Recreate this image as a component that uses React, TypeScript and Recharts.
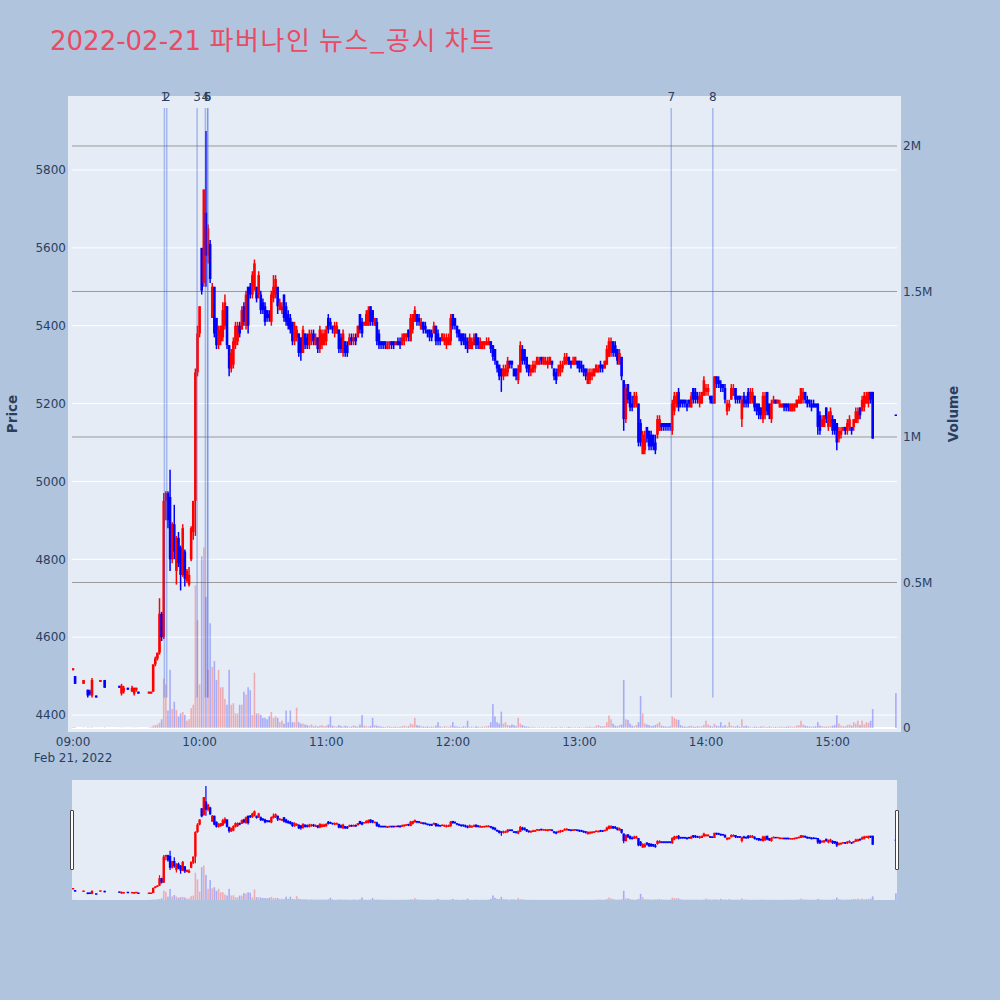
import React from "react";
import {
  ComposedChart,
  Bar,
  XAxis,
  YAxis,
  ReferenceLine,
} from "recharts";

// minutes after 09:00 (one candle per traded minute, 390 = closing auction)
const minutes = [
  0, 1, 5, 7, 8, 9, 11, 13, 15, 22, 23, 24, 26, 28, 29, 30, 31, 36, 37,
  38, 39, 40, 41, 42, 43, 44, 45, 46, 47,
  48, 49, 50, 51, 52, 53, 54, 55, 56, 57,
  58, 59, 60, 61, 62, 63, 64, 65, 66, 67,
  68, 69, 70, 71, 72, 73, 74, 75, 76, 77,
  78, 79, 80, 81, 82, 83, 84, 85, 86, 87,
  88, 89, 90, 91, 92, 93, 94, 95, 96, 97,
  98, 99, 100, 101, 102, 103, 104, 105, 106, 107,
  108, 109, 110, 111, 112, 113, 114, 115, 116, 117,
  118, 119, 120, 121, 122, 123, 124, 125, 126, 127,
  128, 129, 130, 131, 132, 133, 134, 135, 136, 137,
  138, 139, 140, 141, 142, 143, 144, 145, 146, 147,
  148, 149, 150, 151, 152, 153, 154, 155, 156,
  157, 158, 159, 160, 161, 162, 163, 164, 165, 166,
  167, 168, 169, 170, 171, 172, 173, 174, 175, 176,
  177, 178, 179, 180, 181, 182, 183, 184, 185, 186,
  187, 188, 189, 190, 191, 192, 193, 194, 195, 196,
  197, 198, 199, 200, 201, 202, 203, 204, 205, 206,
  207, 208, 209, 210, 211, 212, 213, 214, 215, 216,
  217, 218, 219, 220, 221, 222, 223, 224, 225, 226,
  227, 228, 229, 230, 231, 232, 233, 234, 235, 236,
  237, 238, 239, 240, 241, 242, 243, 244, 245, 246,
  247, 248, 249, 250, 251, 252, 253, 254, 255, 256,
  257, 258, 259, 260, 261, 262, 263, 264, 265, 266,
  267, 268, 269, 270, 271, 272, 273, 274, 275, 276,
  277, 278, 279, 280, 281, 282, 283, 284, 285, 286,
  287, 288, 289, 290, 291, 292, 293, 294, 295, 296,
  297, 298, 299, 300, 301, 302, 303, 304, 305, 306,
  307, 308, 309, 310, 311, 312, 313, 314, 315, 316,
  317, 318, 319, 320, 321, 322, 323, 324, 325, 326,
  327, 328, 329, 330, 331, 332, 333, 334, 335, 336,
  337, 338, 339, 340, 341, 342, 343, 344, 345, 346,
  347, 348, 349, 350, 351, 352, 353, 354, 355, 356,
  357, 358, 359, 360, 361, 362, 363, 364, 365, 366,
  367, 368, 369, 370, 371, 372, 373, 374, 375, 376,
  377, 378, 379,
  390,
];

const opens = [
  4515, 4500, 4480, 4465, 4460, 4450, 4450, 4485, 4490, 4475, 4455, 4460, 4470, 4460, 4455, 4465, 4460, 4455, 4455,
  4460, 4530, 4545, 4560, 4660, 4600, 4950, 4970, 4960, 4800,
  4890, 4770, 4855, 4830, 4760, 4820, 4745, 4735, 4800, 4870,
  4950, 5280, 5380, 5600, 5510, 5690, 5580, 5610, 5420, 5500,
  5420, 5350, 5360, 5370, 5400, 5450, 5350, 5290, 5300, 5350,
  5360, 5400, 5390, 5450, 5400, 5500, 5500, 5480, 5500, 5500,
  5480, 5480, 5460, 5450, 5440, 5430, 5410, 5470, 5480, 5500,
  5440, 5440, 5480, 5450, 5430, 5420, 5410, 5360, 5370, 5380,
  5370, 5330, 5380, 5370, 5350, 5360, 5380, 5350, 5370, 5340,
  5350, 5350, 5360, 5420, 5410, 5400, 5380, 5380, 5390, 5370,
  5330, 5360, 5350, 5350, 5370, 5360, 5370, 5370, 5430, 5410,
  5400, 5400, 5400, 5450, 5440, 5400, 5410, 5380, 5360, 5360,
  5360, 5340, 5350, 5360, 5360, 5350, 5360, 5360, 5350,
  5360, 5370, 5390, 5360, 5390, 5410, 5430, 5420, 5390, 5410,
  5400, 5390, 5390, 5380, 5380, 5400, 5380, 5370, 5360, 5360,
  5350, 5350, 5360, 5430, 5420, 5400, 5390, 5380, 5380, 5370,
  5360, 5340, 5340, 5350, 5380, 5370, 5340, 5340, 5350, 5350,
  5350, 5360, 5350, 5340, 5310, 5300, 5290, 5270, 5270, 5280,
  5310, 5310, 5290, 5290, 5260, 5280, 5340, 5340, 5320, 5300,
  5280, 5280, 5290, 5300, 5300, 5320, 5300, 5300, 5300, 5300,
  5310, 5290, 5280, 5270, 5280, 5290, 5300, 5310, 5320, 5310,
  5300, 5300, 5310, 5310, 5300, 5290, 5290, 5250, 5260, 5270,
  5270, 5280, 5280, 5300, 5300, 5290, 5300, 5320, 5330, 5360,
  5350, 5340, 5300, 5320, 5260, 5160, 5250, 5230, 5200, 5190,
  5200, 5200, 5150, 5070, 5080, 5140, 5130, 5120, 5120, 5100,
  5120, 5130, 5150, 5150, 5150, 5150, 5150, 5130, 5180, 5200,
  5230, 5210, 5210, 5210, 5200, 5210, 5190, 5240, 5230, 5220,
  5200, 5200, 5220, 5230, 5230, 5220, 5220, 5200, 5270, 5260,
  5250, 5250, 5240, 5180, 5190, 5210, 5220, 5240, 5220, 5220,
  5160, 5220, 5210, 5230, 5200, 5210, 5220, 5200, 5200, 5190,
  5160, 5170, 5230, 5200, 5160, 5200, 5210, 5200, 5190, 5190,
  5200, 5200, 5200, 5180, 5180, 5190, 5190, 5200, 5200, 5210,
  5230, 5210, 5210, 5200, 5200, 5200, 5200, 5170, 5140, 5140,
  5190, 5140, 5150, 5160, 5160, 5150, 5110, 5120, 5130, 5140,
  5130, 5140, 5140, 5140, 5150, 5160, 5190, 5180, 5190, 5200,
  5200, 5230, 5230,
  5170,
];

const highs = [
  4520, 4500, 4490, 4465, 4465, 4495, 4450, 4490, 4490, 4475, 4480, 4475, 4470, 4475, 4470, 4470, 4460, 4460, 4460,
  4530, 4550, 4560, 4700, 4665, 4970, 4975, 4975, 5030, 4895,
  4940, 4860, 4870, 4835, 4890, 4825, 4775, 4780, 4885, 4950,
  5290, 5400, 5450, 5600, 5750, 5900, 5660, 5620, 5510, 5500,
  5420, 5400, 5400, 5460, 5480, 5450, 5350, 5340, 5370, 5410,
  5410, 5410, 5450, 5460, 5490, 5500, 5510, 5540, 5570, 5500,
  5540, 5490, 5470, 5460, 5440, 5440, 5490, 5530, 5530, 5500,
  5470, 5460, 5480, 5460, 5440, 5430, 5410, 5410, 5400, 5380,
  5370, 5400, 5380, 5380, 5390, 5390, 5390, 5380, 5370, 5400,
  5390, 5390, 5400, 5430, 5420, 5400, 5410, 5410, 5390, 5380,
  5390, 5360, 5360, 5380, 5380, 5380, 5380, 5400, 5430, 5420,
  5410, 5440, 5450, 5450, 5440, 5420, 5420, 5390, 5360, 5360,
  5360, 5360, 5360, 5360, 5360, 5360, 5370, 5370, 5380,
  5380, 5380, 5390, 5430, 5430, 5450, 5430, 5430, 5420, 5410,
  5410, 5390, 5390, 5390, 5410, 5400, 5390, 5370, 5380, 5380,
  5380, 5380, 5430, 5430, 5420, 5400, 5390, 5380, 5380, 5380,
  5370, 5380, 5370, 5380, 5380, 5370, 5370, 5360, 5360, 5370,
  5370, 5360, 5350, 5340, 5310, 5300, 5290, 5300, 5300, 5320,
  5310, 5310, 5290, 5290, 5300, 5360, 5350, 5340, 5320, 5300,
  5300, 5310, 5310, 5320, 5320, 5320, 5320, 5320, 5320, 5320,
  5310, 5290, 5290, 5300, 5310, 5310, 5330, 5330, 5320, 5310,
  5320, 5320, 5310, 5310, 5310, 5300, 5290, 5290, 5290, 5290,
  5290, 5300, 5300, 5310, 5300, 5310, 5350, 5370, 5370, 5360,
  5360, 5340, 5340, 5320, 5260, 5250, 5250, 5230, 5220, 5230,
  5230, 5200, 5160, 5130, 5130, 5140, 5130, 5130, 5120, 5120,
  5170, 5170, 5150, 5150, 5150, 5150, 5150, 5210, 5230, 5230,
  5240, 5210, 5210, 5210, 5210, 5210, 5230, 5240, 5240, 5230,
  5230, 5230, 5270, 5250, 5250, 5220, 5220, 5270, 5270, 5270,
  5260, 5250, 5250, 5210, 5210, 5250, 5250, 5240, 5220, 5220,
  5220, 5230, 5220, 5240, 5240, 5240, 5220, 5200, 5200, 5190,
  5230, 5230, 5230, 5200, 5210, 5220, 5210, 5210, 5210, 5200,
  5200, 5200, 5200, 5200, 5200, 5200, 5210, 5220, 5240, 5240,
  5230, 5220, 5210, 5210, 5210, 5200, 5200, 5180, 5170, 5170,
  5190, 5180, 5190, 5170, 5160, 5150, 5140, 5140, 5140, 5140,
  5160, 5170, 5140, 5160, 5190, 5190, 5190, 5220, 5230, 5230,
  5230, 5230, 5230,
  5170,
];

const lows = [
  4515, 4480, 4480, 4445, 4450, 4445, 4445, 4485, 4470, 4470, 4450, 4455, 4465, 4460, 4450, 4460, 4455, 4455, 4455,
  4460, 4525, 4540, 4555, 4590, 4595, 4900, 4880, 4770, 4790,
  4800, 4735, 4780, 4720, 4755, 4730, 4740, 4730, 4795, 4850,
  4860, 5270, 5370, 5480, 5500, 5500, 5560, 5510, 5420, 5370,
  5340, 5340, 5350, 5360, 5390, 5340, 5270, 5280, 5290, 5340,
  5350, 5370, 5390, 5400, 5390, 5380, 5470, 5470, 5490, 5460,
  5470, 5430, 5430, 5400, 5410, 5410, 5400, 5460, 5470, 5430,
  5440, 5430, 5410, 5400, 5390, 5380, 5350, 5350, 5360, 5320,
  5310, 5330, 5340, 5340, 5340, 5350, 5350, 5350, 5330, 5330,
  5340, 5350, 5350, 5380, 5390, 5380, 5370, 5380, 5330, 5330,
  5320, 5320, 5320, 5350, 5350, 5350, 5350, 5370, 5380, 5370,
  5400, 5400, 5400, 5400, 5400, 5400, 5350, 5340, 5340, 5340,
  5340, 5340, 5340, 5340, 5340, 5350, 5350, 5340, 5350,
  5350, 5360, 5360, 5360, 5380, 5410, 5400, 5400, 5390, 5380,
  5380, 5370, 5360, 5360, 5380, 5350, 5350, 5350, 5360, 5350,
  5340, 5350, 5350, 5390, 5390, 5370, 5360, 5350, 5350, 5340,
  5330, 5340, 5340, 5350, 5340, 5340, 5340, 5340, 5340, 5350,
  5350, 5330, 5310, 5300, 5280, 5260, 5230, 5260, 5270, 5270,
  5290, 5290, 5270, 5260, 5250, 5280, 5300, 5300, 5280, 5270,
  5270, 5280, 5280, 5300, 5300, 5300, 5300, 5300, 5290, 5300,
  5290, 5260, 5250, 5270, 5270, 5280, 5300, 5300, 5300, 5290,
  5300, 5300, 5290, 5280, 5280, 5270, 5260, 5250, 5250, 5260,
  5270, 5280, 5280, 5280, 5280, 5290, 5300, 5320, 5320, 5320,
  5320, 5300, 5300, 5260, 5130, 5150, 5200, 5180, 5180, 5190,
  5190, 5090, 5090, 5070, 5070, 5100, 5080, 5080, 5080, 5070,
  5110, 5130, 5130, 5130, 5130, 5130, 5130, 5120, 5170, 5190,
  5180, 5190, 5190, 5190, 5180, 5190, 5190, 5200, 5200, 5200,
  5190, 5200, 5220, 5220, 5220, 5200, 5200, 5200, 5240, 5240,
  5230, 5230, 5200, 5170, 5180, 5210, 5220, 5200, 5200, 5200,
  5140, 5190, 5190, 5190, 5200, 5200, 5180, 5170, 5160, 5160,
  5150, 5160, 5170, 5160, 5150, 5200, 5200, 5200, 5190, 5190,
  5180, 5180, 5180, 5180, 5180, 5180, 5190, 5200, 5200, 5200,
  5200, 5190, 5190, 5180, 5190, 5190, 5120, 5120, 5140, 5140,
  5150, 5130, 5140, 5120, 5120, 5080, 5100, 5110, 5130, 5120,
  5120, 5130, 5120, 5130, 5150, 5150, 5160, 5180, 5180, 5200,
  5190, 5200, 5110,
  5170,
];

const closes = [
  4520, 4480, 4490, 4450, 4455, 4490, 4445, 4490, 4470, 4470, 4475, 4470, 4465, 4470, 4470, 4470, 4455, 4460, 4460,
  4530, 4545, 4560, 4660, 4600, 4950, 4970, 4900, 4800, 4890,
  4820, 4855, 4790, 4760, 4880, 4750, 4770, 4760, 4880, 4950,
  5280, 5380, 5450, 5490, 5750, 5580, 5650, 5520, 5500, 5380,
  5350, 5390, 5400, 5440, 5460, 5350, 5290, 5330, 5360, 5400,
  5400, 5380, 5440, 5410, 5480, 5400, 5480, 5530, 5560, 5470,
  5530, 5440, 5440, 5410, 5420, 5420, 5480, 5500, 5520, 5450,
  5460, 5450, 5420, 5410, 5400, 5390, 5360, 5400, 5390, 5330,
  5330, 5390, 5350, 5350, 5380, 5380, 5360, 5370, 5340, 5390,
  5380, 5380, 5390, 5390, 5400, 5390, 5400, 5400, 5340, 5340,
  5380, 5330, 5330, 5370, 5360, 5370, 5360, 5400, 5390, 5380,
  5410, 5430, 5440, 5410, 5410, 5420, 5360, 5350, 5350, 5350,
  5350, 5350, 5360, 5350, 5350, 5360, 5350, 5350, 5370,
  5380, 5380, 5370, 5420, 5430, 5440, 5410, 5410, 5410, 5390,
  5390, 5380, 5370, 5370, 5400, 5360, 5360, 5360, 5380, 5370,
  5370, 5370, 5420, 5400, 5400, 5380, 5370, 5360, 5360, 5350,
  5340, 5370, 5360, 5370, 5350, 5350, 5360, 5360, 5360, 5360,
  5360, 5340, 5320, 5310, 5290, 5270, 5270, 5290, 5290, 5310,
  5300, 5300, 5270, 5270, 5290, 5350, 5310, 5310, 5290, 5280,
  5290, 5300, 5300, 5320, 5310, 5310, 5320, 5310, 5310, 5320,
  5300, 5270, 5260, 5290, 5300, 5300, 5320, 5320, 5300, 5300,
  5310, 5320, 5300, 5290, 5290, 5280, 5270, 5280, 5280, 5280,
  5290, 5300, 5290, 5290, 5290, 5310, 5340, 5360, 5360, 5330,
  5330, 5310, 5330, 5270, 5160, 5240, 5210, 5190, 5190, 5220,
  5220, 5100, 5100, 5120, 5110, 5110, 5090, 5090, 5090, 5080,
  5160, 5160, 5140, 5140, 5140, 5140, 5140, 5200, 5220, 5220,
  5190, 5200, 5200, 5200, 5190, 5200, 5220, 5210, 5210, 5210,
  5220, 5230, 5260, 5240, 5240, 5210, 5200, 5270, 5250, 5250,
  5240, 5240, 5210, 5200, 5200, 5240, 5240, 5210, 5210, 5210,
  5210, 5200, 5200, 5200, 5230, 5230, 5190, 5180, 5170, 5170,
  5220, 5220, 5180, 5170, 5200, 5210, 5200, 5210, 5200, 5200,
  5190, 5190, 5190, 5200, 5200, 5200, 5210, 5210, 5240, 5230,
  5210, 5200, 5200, 5190, 5190, 5190, 5140, 5130, 5160, 5170,
  5160, 5170, 5180, 5130, 5130, 5100, 5130, 5130, 5140, 5130,
  5150, 5160, 5130, 5160, 5180, 5180, 5170, 5210, 5220, 5220,
  5230, 5210, 5110,
  5170,
];

const volumes = [
  3000, 2000, 1000, 1500, 1000, 2000, 800, 500, 1500, 500, 1200, 800, 400, 900, 1000, 600, 500, 1500, 2500,
  8000, 10000, 12000, 18000, 30000, 170000, 150000, 60000, 200000, 65000,
  90000, 62000, 40000, 50000, 55000, 45000, 25000, 30000, 68000, 80000,
  490000, 370000, 150000, 590000, 620000, 450000, 200000, 360000, 210000, 230000,
  165000, 200000, 140000, 140000, 100000, 80000, 200000, 80000, 85000, 50000,
  50000, 80000, 80000, 125000, 115000, 140000, 130000, 45000, 190000, 50000,
  50000, 45000, 35000, 35000, 30000, 40000, 55000, 35000, 40000, 35000,
  20000, 25000, 15000, 60000, 20000, 60000, 20000, 20000, 70000, 20000,
  15000, 15000, 12000, 10000, 8000, 12000, 6000, 9000, 5000, 8000,
  10000, 6000, 8000, 12000, 40000, 8000, 6000, 5000, 10000, 7000,
  5000, 8000, 6000, 4000, 5000, 9000, 6000, 5000, 12000, 45000,
  8000, 6000, 5000, 7000, 35000, 10000, 8000, 6000, 5000, 4000,
  3000, 5000, 6000, 3000, 4000, 5000, 3000, 4000, 6000,
  8000, 5000, 6000, 15000, 12000, 35000, 10000, 8000, 6000, 5000,
  4000, 6000, 3000, 5000, 4000, 8000, 20000, 5000, 4000, 6000,
  5000, 4000, 8000, 20000, 6000, 5000, 4000, 3000, 6000, 5000,
  25000, 4000, 5000, 3000, 6000, 4000, 3000, 5000, 4000, 6000,
  8000, 20000, 82000, 40000, 20000, 15000, 56000, 15000, 20000, 10000,
  8000, 12000, 10000, 6000, 35000, 15000, 10000, 6000, 5000, 4000,
  3000, 4000, 3000, 2000, 3000, 2000, 3000, 2000, 3000, 2000,
  3000, 2000, 3000, 2000, 4000, 3000, 2000, 3000, 4000, 3000,
  2000, 3000, 2000, 3000, 2000, 2000, 3000, 4000, 5000, 3000,
  4000, 8000, 10000, 6000, 5000, 7000, 20000, 43000, 30000, 15000,
  8000, 6000, 10000, 12000, 165000, 30000, 28000, 15000, 8000, 6000,
  10000, 20000, 110000, 50000, 15000, 12000, 10000, 6000, 8000, 10000,
  15000, 20000, 8000, 6000, 5000, 4000, 6000, 40000, 35000, 30000,
  28000, 10000, 6000, 5000, 4000, 6000, 8000, 5000, 4000, 6000,
  5000, 6000, 10000, 25000, 12000, 8000, 5000, 15000, 8000, 6000,
  20000, 6000, 10000, 5000, 20000, 8000, 6000, 5000, 8000, 4000,
  30000, 6000, 8000, 5000, 4000, 3000, 5000, 4000, 3000, 5000,
  6000, 4000, 3000, 5000, 4000, 3000, 4000, 3000, 5000, 4000,
  3000, 4000, 5000, 6000, 4000, 5000, 8000, 10000, 25000, 12000,
  8000, 6000, 5000, 4000, 5000, 6000, 20000, 8000, 6000, 5000,
  4000, 6000, 5000, 8000, 10000, 44000, 15000, 8000, 6000, 5000,
  10000, 12000, 8000, 20000, 15000, 25000, 10000, 25000, 12000, 20000,
  18000, 25000, 65000,
  120000,
];

// news / disclosure markers (minutes after 09:00)
const newsTimes = [43.3, 44.4, 58.8, 62.7, 63.8, 63.8, 283.5, 303.2];
const newsLabels = ["1", "2", "3", "4", "5", "6", "7", "8"];

const priceTicks = [4400, 4600, 4800, 5000, 5200, 5400, 5600, 5800];
const volumeTicks = [0, 500000, 1000000, 1500000, 2000000];
const timeTicks = [0, 60, 120, 180, 240, 300, 360];
const timeTickLabels = ["09:00", "10:00", "11:00", "12:00", "13:00", "14:00", "15:00"];
const dateLabel = "Feb 21, 2022";
const titleDate = "2022-02-21";
const titleText = "파버나인 뉴스_공시 차트";

const X_DOMAIN: [number, number] = [-0.5, 390.5];
const PRICE_DOMAIN: [number, number] = [4366.6, 5979.8];
const VOL_DOMAIN: [number, number] = [0, 2158000];

const RED = "#ff0000";
const BLUE = "#0000ff";
const VOL_RED = "rgba(255,0,0,0.27)";
const VOL_BLUE = "rgba(0,0,255,0.27)";
const AXIS = "#2a3f5f";
const FONT = '"DejaVu Sans", Verdana, sans-serif';

const n = Math.min(minutes.length, opens.length, highs.length, lows.length, closes.length, volumes.length);
const rows = minutes.slice(0, n).map((t, i) => ({
  t,
  o: opens[i],
  h: highs[i],
  l: lows[i],
  c: closes[i],
  v: volumes[i],
  range: [lows[i], highs[i]],
  up: closes[i] > opens[i],
}));

const newsLow = Math.min(...lows);
const newsHigh = Math.max(...highs) * 1.01;

const fmtVol = (v: number) => (v === 0 ? "0" : `${v / 1e6}M`);

function candleShape(bodyW: number, wickW: number) {
  return (props: any) => {
    const { x, y, width, height, payload } = props;
    if (payload == null || x == null || y == null) return <g />;
    const cx = x + (width || 0) / 2;
    const top = Math.min(y, y + (height || 0));
    const bot = Math.max(y, y + (height || 0));
    const span = payload.h - payload.l;
    const at = (v: number) => (span > 0 ? top + ((payload.h - v) / span) * (bot - top) : top);
    const color = payload.up ? RED : BLUE;
    const yo = at(payload.o);
    const yc = at(payload.c);
    let bTop = Math.min(yo, yc);
    let bH = Math.abs(yo - yc);
    if (bH < 1.5) {
      bTop = (yo + yc) / 2 - 0.75;
      bH = 1.5;
    }
    return (
      <g>
        <line x1={cx} x2={cx} y1={top} y2={bot} stroke={color} strokeWidth={wickW} />
        <rect x={cx - bodyW / 2} y={bTop} width={bodyW} height={bH} fill={color} />
      </g>
    );
  };
}

const volShape = (props: any) => {
  const { x, y, width, height, payload } = props;
  if (payload == null || x == null || y == null) return <g />;
  const cx = x + (width || 0) / 2;
  const top = Math.min(y, y + (height || 0));
  const h = Math.abs(height || 0);
  return <rect x={cx - 0.8} y={top} width={1.6} height={h} fill={payload.up ? VOL_RED : VOL_BLUE} />;
};

const TimeTick = (props: any) => {
  const { x, y, payload } = props;
  const idx = timeTicks.indexOf(payload.value);
  return (
    <g>
      <text x={x} y={y + 18} textAnchor="middle" fill={AXIS} fontSize={12} fontFamily={FONT}>
        {timeTickLabels[idx]}
      </text>
      {idx === 0 && (
        <text x={x} y={y + 34} textAnchor="middle" fill={AXIS} fontSize={12} fontFamily={FONT}>
          {dateLabel}
        </text>
      )}
    </g>
  );
};

const mainCandle = candleShape(2.6, 1.5);
const sliderCandle = candleShape(2.4, 1.2);

// shared hidden axes for the data layers
const hiddenAxes = [
  <XAxis key="hx" dataKey="t" type="number" domain={X_DOMAIN} allowDataOverflow hide />,
  <XAxis key="hxv" xAxisId="xv" dataKey="t" type="number" domain={X_DOMAIN} allowDataOverflow hide />,
  <YAxis key="hy" type="number" domain={PRICE_DOMAIN} allowDataOverflow hide />,
  <YAxis key="hyv" yAxisId="vol" type="number" domain={VOL_DOMAIN} allowDataOverflow hide />,
];

export default function App() {
  return (
    <div style={{ position: "absolute", left: 0, top: 0, width: 1000, height: 1000, background: "#b0c4de", overflow: "hidden" }}>
      {/* plot background */}
      <div style={{ position: "absolute", left: 68, top: 96, width: 833, height: 636, background: "#e5ecf6" }} />
      {/* range slider background */}
      <div style={{ position: "absolute", left: 72, top: 780, width: 825, height: 120, background: "#e5ecf6" }} />

      {/* axes and grid layer */}
      <div style={{ position: "absolute", left: 0, top: 0 }}>
        <ComposedChart width={1000} height={770} data={rows} margin={{ top: 100, right: 43, bottom: 12, left: 12 }}>
          <XAxis
            dataKey="t"
            type="number"
            domain={X_DOMAIN}
            ticks={timeTicks}
            interval={0}
            allowDataOverflow
            axisLine={false}
            tickLine={false}
            tickSize={0}
            tickMargin={0}
            height={30}
            tick={<TimeTick />}
          />
          <YAxis
            type="number"
            domain={PRICE_DOMAIN}
            ticks={priceTicks}
            interval={0}
            allowDataOverflow
            axisLine={false}
            tickLine={false}
            tickSize={0}
            tickMargin={6}
            width={60}
            tick={{ fill: AXIS, fontSize: 12, fontFamily: FONT }}
          />
          <YAxis
            yAxisId="vol"
            orientation="right"
            type="number"
            domain={VOL_DOMAIN}
            ticks={volumeTicks}
            interval={0}
            allowDataOverflow
            axisLine={false}
            tickLine={false}
            tickSize={0}
            tickMargin={6}
            width={60}
            tickFormatter={fmtVol}
            tick={{ fill: AXIS, fontSize: 12, fontFamily: FONT }}
          />
          {priceTicks.map((p) => (
            <ReferenceLine key={`pg-${p}`} y={p} stroke="#ffffff" strokeWidth={1} />
          ))}
          {volumeTicks.slice(1).map((v) => (
            <ReferenceLine key={`vg-${v}`} yAxisId="vol" y={v} stroke="#9a9a9a" strokeWidth={1} />
          ))}
          <ReferenceLine yAxisId="vol" y={0} stroke="#ffffff" strokeWidth={2} />
        </ComposedChart>
      </div>

      {/* candles, volume and news markers */}
      <div style={{ position: "absolute", left: 0, top: 0 }}>
        <ComposedChart width={1000} height={770} data={rows} margin={{ top: 100, right: 103, bottom: 42, left: 72 }}>
          {hiddenAxes}
          <Bar xAxisId="xv" yAxisId="vol" dataKey="v" barSize={2} shape={volShape} isAnimationActive={false} />
          <Bar dataKey="range" barSize={2} shape={mainCandle} isAnimationActive={false} />
          {newsTimes.map((t, i) => (
            <ReferenceLine
              key={`news-${i}`}
              segment={[
                { x: t, y: newsLow },
                { x: t, y: newsHigh },
              ]}
              stroke="rgba(65,105,225,0.4)"
              strokeWidth={1.5}
              label={{ value: newsLabels[i], position: "top", offset: 7, fill: AXIS, fontSize: 12, fontFamily: FONT }}
            />
          ))}
        </ComposedChart>
      </div>

      {/* range slider */}
      <div style={{ position: "absolute", left: 0, top: 780 }}>
        <ComposedChart width={1000} height={120} data={rows} margin={{ top: 0, right: 103, bottom: 0, left: 72 }}>
          {hiddenAxes}
          <Bar xAxisId="xv" yAxisId="vol" dataKey="v" barSize={2} shape={volShape} isAnimationActive={false} />
          <Bar dataKey="range" barSize={2} shape={sliderCandle} isAnimationActive={false} />
        </ComposedChart>
      </div>
      <div style={{ position: "absolute", left: 69.5, top: 810, width: 4, height: 60, boxSizing: "border-box", border: "1px solid #444", background: "#fff", borderRadius: 1 }} />
      <div style={{ position: "absolute", left: 895, top: 810, width: 4, height: 60, boxSizing: "border-box", border: "1px solid #444", background: "#fff", borderRadius: 1 }} />

      <svg width={1000} height={1000} style={{ position: "absolute", left: 0, top: 0, pointerEvents: "none" }}>
        <text x={50} y={50} fontSize={26} fill="#e84c64" fontFamily={'"DejaVu Sans", "Noto Sans CJK KR", sans-serif'}>
          {titleDate}{" "}
          <tspan letterSpacing={1.6} fontFamily={'"Noto Sans CJK KR", "DejaVu Sans", sans-serif'}>
            {titleText}
          </tspan>
        </text>
        <text transform="translate(17,414) rotate(-90)" textAnchor="middle" fontSize={13.5} fontWeight="bold" fill={AXIS} fontFamily={FONT}>
          Price
        </text>
        <text transform="translate(958,414) rotate(-90)" textAnchor="middle" fontSize={13.5} fontWeight="bold" fill={AXIS} fontFamily={FONT}>
          Volume
        </text>
      </svg>
    </div>
  );
}
